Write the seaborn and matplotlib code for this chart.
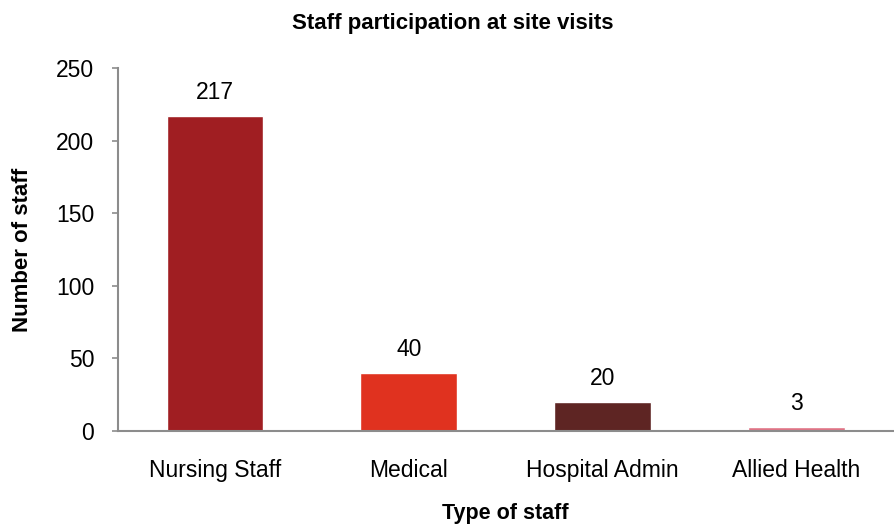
import matplotlib
matplotlib.use("Agg")
import matplotlib.pyplot as plt
import seaborn as sns
import pandas as pd

staffTypes = ["Nursing Staff", "Medical", "Hospital Admin", "Allied Health"]
staffCounts = [217, 40, 20, 3]
barColors = ["#A01E22", "#E0321F", "#5E2523", "#E07385"]
yTicks = [0, 50, 100, 150, 200, 250]

df = pd.DataFrame({"type": staffTypes, "count": staffCounts})

sns.set_theme(style="white")
plt.rcParams["font.family"] = ["Liberation Sans", "DejaVu Sans"]
plt.rcParams["text.color"] = "black"
plt.rcParams["axes.labelcolor"] = "black"

fig = plt.figure(figsize=(8.95, 5.32), dpi=100)
ax = fig.add_axes([0.132, 0.19, 0.866, 0.682])

sns.barplot(data=df, x="type", y="count", hue="type", palette=barColors,
            width=0.5, saturation=1, legend=False, ax=ax)

# value labels above the bars
for i, v in enumerate(staffCounts):
    ax.annotate(str(v), (i, v), xytext=(0, 12), textcoords="offset points",
                ha="center", va="baseline", fontsize=16.5, color="black")

ax.set_ylim(0, 250)
ax.set_yticks(yTicks)
ax.set_xlim(-0.5, 3.5)
ax.tick_params(axis="y", which="major", left=True, length=4.3, width=1.2,
               color="#8c8c8c", labelsize=16.5, pad=13, labelcolor="black")
ax.tick_params(axis="x", bottom=False, length=0, labelsize=16.5, pad=20, labelcolor="black")

for side in ["top", "right"]:
    ax.spines[side].set_visible(False)
for side in ["left", "bottom"]:
    ax.spines[side].set_color("#8c8c8c")
    ax.spines[side].set_linewidth(1.5)

fig.text(453 / 895, 1 - 29 / 532, "Staff participation at site visits",
         ha="center", va="baseline", fontsize=16, fontweight="bold", color="black")
ax.set_xlabel("Type of staff", fontsize=15.5, fontweight="bold", color="black")
ax.xaxis.set_label_coords(0.5, -0.2)
ax.set_ylabel("Number of staff", fontsize=16, fontweight="bold", color="black")
ax.yaxis.set_label_coords(-0.11, 0.5)

fig.savefig("out.png", dpi=100)
